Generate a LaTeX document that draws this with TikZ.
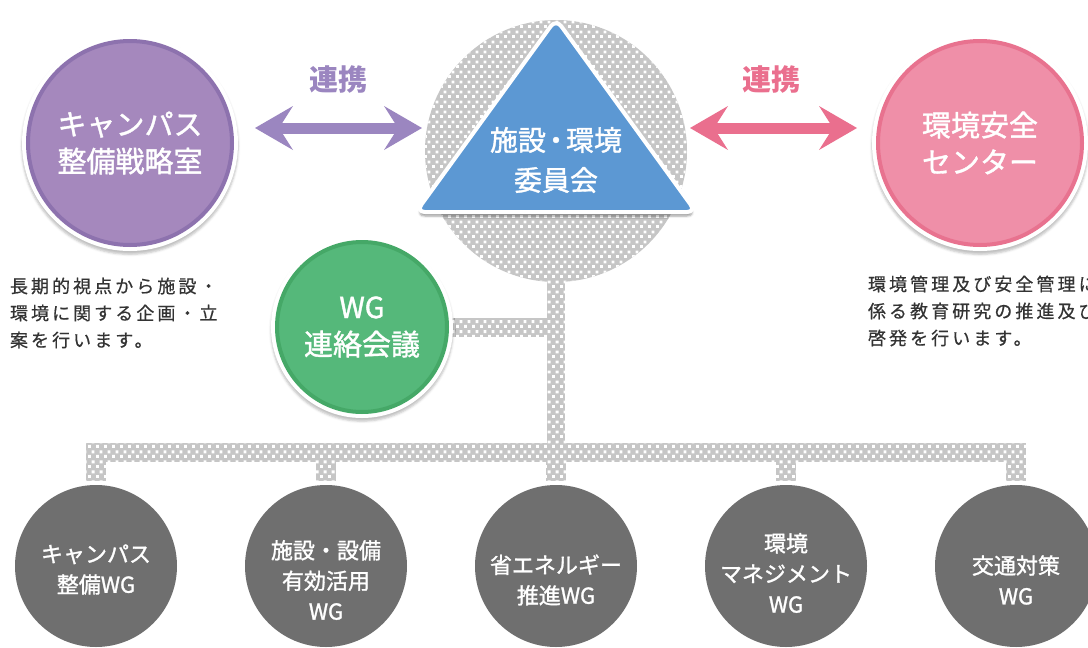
\documentclass[tikz,border=0pt]{standalone}
\usepackage{fontspec}
\setmainfont{Noto Sans CJK JP}
\newfontfamily\descfont[LetterSpace=17,FakeBold=0.6]{Noto Sans CJK JP}
\newfontfamily\medfont[FakeBold=1.3]{Noto Sans CJK JP}
\usetikzlibrary{patterns,shadows.blur,arrows.meta,calc}
\definecolor{purpF}{HTML}{A588BD}
\definecolor{purpR}{HTML}{8D72AE}
\definecolor{purpA}{HTML}{9B86C0}
\definecolor{pinkF}{HTML}{EF8FA8}
\definecolor{pinkR}{HTML}{E8728F}
\definecolor{pinkA}{HTML}{EA6F8E}
\definecolor{greenF}{HTML}{55B87A}
\definecolor{greenR}{HTML}{45A867}
\definecolor{blueF}{HTML}{5C98D3}
\definecolor{wgGray}{HTML}{6F6F6F}
\definecolor{dotGray}{HTML}{C6C6C6}
\definecolor{descText}{HTML}{333333}
\pgfdeclarepatternformonly{sqdots}{\pgfqpoint{0pt}{0pt}}{\pgfqpoint{8pt}{10pt}}{\pgfqpoint{8pt}{10pt}}{%
  \pgfpathrectangle{\pgfqpoint{0pt}{0pt}}{\pgfqpoint{3.2pt}{3.2pt}}%
  \pgfpathrectangle{\pgfqpoint{4pt}{5pt}}{\pgfqpoint{3.2pt}{3.2pt}}%
  \pgfusepath{fill}}
\tikzset{
  dotfill/.style={fill=dotGray, postaction={pattern=sqdots, pattern color=white}},
  bigcirc/.style={circle, minimum size=204pt, line width=4pt, text=white, align=center,
    font=\medfont\fontsize{29}{37}\selectfont,
    blur shadow={shadow xshift=0pt, shadow yshift=-3pt, shadow scale=1.06, shadow opacity=25},
    preaction={draw=white, line width=12pt}},
  greencirc/.style={circle, minimum size=170pt, line width=4pt, text=white, align=center,
    fill=greenF, draw=greenR, font=\medfont\fontsize{29}{37}\selectfont,
    blur shadow={shadow xshift=0pt, shadow yshift=-3pt, shadow scale=1.07, shadow opacity=25},
    preaction={draw=white, line width=12pt}},
  wgcirc/.style={circle, minimum size=162pt, fill=wgGray},
  wgtext/.style={text=white, align=center, font=\medfont\fontsize{22}{30.5}\selectfont},
  linklabel/.style={font=\bfseries\fontsize{29}{29}\selectfont},
  desc/.style={text=descText, align=left, anchor=west, font=\descfont\fontsize{18}{27}\selectfont},
  dbl/.style={line width=11pt,
    {Stealth[length=38pt,width=44pt,inset=14pt,line width=0pt]}-{Stealth[length=38pt,width=44pt,inset=14pt,line width=0pt]}},
}
\begin{document}
\begin{tikzpicture}[x=1pt,y=-1pt, every node/.style={inner sep=0pt, outer sep=0pt}]
\useasboundingbox (0,0) rectangle (1088,648);
\clip (0,0) rectangle (1088,648);
% dotted committee backdrop and connectors
\path[dotfill] (556,151) circle (131pt);
\coordinate (trunkTop) at (547,270);
\coordinate (trunkBot) at (565,462);
\path[dotfill] (trunkTop) rectangle (trunkBot);
\path[dotfill] (430,318) rectangle (556,337);
\path[dotfill] (86,443) rectangle (1026,462);
% WG circles
\foreach [count=\i] \x in {96,326,556,786,1016} {
  \node[wgcirc] (wg\i) at (\x,566) {};
  \path[dotfill] ($(wg\i.north)+(-10,-30)$) rectangle ($(wg\i.north)+(10,-4)$);
}
\node[wgtext] (t1) at (96,569.5) {キャンパス\\整備WG};
\node[wgtext] (t2) at (326,580) {施設・設備\\有効活用\\WG};
\node[wgtext] (t3) at (556,580) {省エネルギー\\推進WG};
\node[wgtext] (t4) at (786,573) {環境\\マネジメント\\WG};
\node[wgtext] (t5) at (1016,580) {交通対策\\WG};
% triangle committee
\path[fill=blueF, draw=white, line width=4pt, rounded corners=9pt, line join=round,
  blur shadow={shadow xshift=0pt, shadow yshift=-4pt, shadow opacity=40}]
  (556,19) -- (696,212) -- (416,212) -- cycle;
\node[text=white, align=center, font=\medfont\fontsize{28}{40}\selectfont] (committee) at (556,160) {施設\kern-4pt・\kern-4pt環境\\委員会};
% side circles
\node[bigcirc, fill=purpF, draw=purpR] (camp) at (130,143) {キャンパス\\整備戦略室};
\node[bigcirc, fill=pinkF, draw=pinkR] (env) at (980,143) {環境安全\\センター};
\node[greencirc] (wgc) at (362,327) {WG\\連絡会議};
% link arrows
\coordinate (pa1) at (255,128);
\coordinate (pa2) at (422,128);
\draw[dbl, purpA] (pa1) -- (pa2);
\node[linklabel, text=purpA] (lk1) at (338,80) {連携};
\coordinate (pb1) at (690,128);
\coordinate (pb2) at (857,128);
\draw[dbl, pinkA] (pb1) -- (pb2);
\node[linklabel, text=pinkA] (lk2) at (771,80) {連携};
% descriptions
\node[desc] (d1) at (10,313) {長期的視点から施設・\\環境に関する企画・立\\案を行います。};
\node[desc] (d2) at (868,311) {環境管理及び安全管理に\\係る教育研究の推進及び\\啓発を行います。};
\end{tikzpicture}
\end{document}
